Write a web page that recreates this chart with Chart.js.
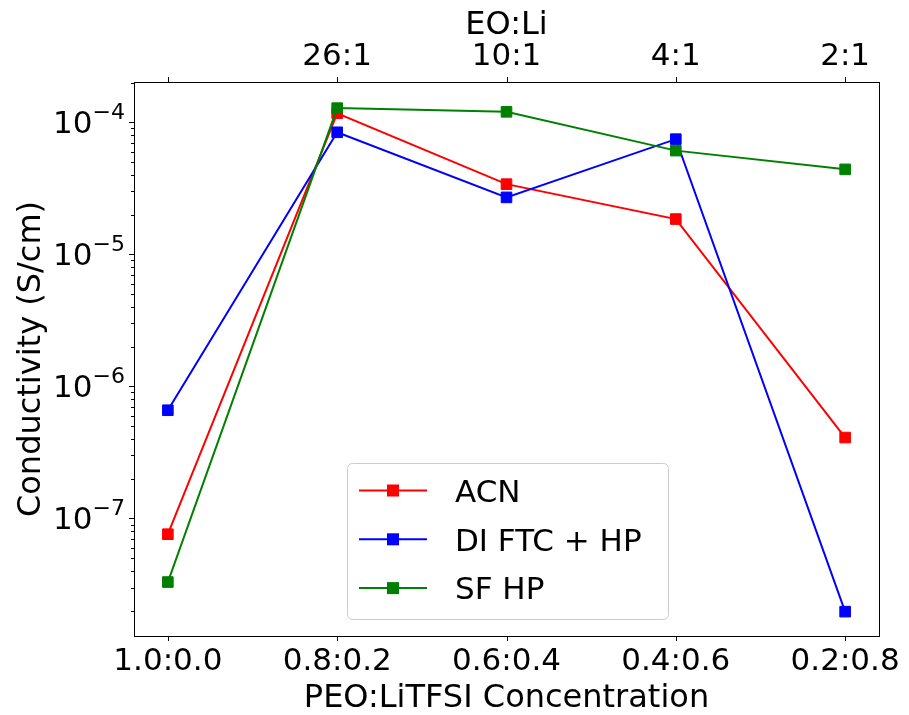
<!DOCTYPE html>
<html>
<head>
<meta charset="utf-8">
<script src="https://cdn.jsdelivr.net/npm/chart.js@4"></script>
<style>
  body { margin: 0; background: #fff; }
</style>
</head>
<body>
<canvas id="chart" width="909" height="715"></canvas>
<script>
// categories on the bottom axis and the matching EO:Li ratios on top
const categories = ["1.0:0.0", "0.8:0.2", "0.6:0.4", "0.4:0.6", "0.2:0.8"];
const eoLiLabels = ["", "26:1", "10:1", "4:1", "2:1"];
// conductivity values (S/cm)
const acn = [7.6e-8, 1.17e-4, 3.4e-5, 1.85e-5, 4.1e-7];
const diFtcHp = [6.6e-7, 8.4e-5, 2.7e-5, 7.45e-5, 1.97e-8];
const sfHp = [3.3e-8, 1.28e-4, 1.2e-4, 6.1e-5, 4.4e-5];
// powers of ten labelled on the y axis
const yTickExponents = [-7, -6, -5, -4];

const seriesNames = ["ACN", "DI FTC + HP", "SF HP"];
const seriesColors = ["#ff0000", "#0000ff", "#008000"];
const FONT = "DejaVu Sans";

const toPoints = (vals) => vals.map((v, i) => ({ x: i, y: v }));

//Draws frame, tick marks, y labels with superscripts and the legend
const axesPlugin = {
  id: "axesPlugin",
  afterDatasetsDraw(chart) {
    const ctx = chart.ctx;
    const area = chart.chartArea;
    const x = chart.scales.x;
    const y = chart.scales.y;
    ctx.save();
    ctx.strokeStyle = "#000";
    ctx.lineWidth = 1;
    ctx.strokeRect(Math.round(area.left) + 0.5, Math.round(area.top) + 0.5,
      Math.round(area.right - area.left), Math.round(area.bottom - area.top));

    // x tick marks, bottom and top
    ctx.beginPath();
    categories.forEach((c, i) => {
      const px = Math.round(x.getPixelForValue(i)) + 0.5;
      ctx.moveTo(px, area.bottom); ctx.lineTo(px, area.bottom + 5);
      ctx.moveTo(px, area.top); ctx.lineTo(px, area.top - 5);
    });
    // y major and minor tick marks
    for (let e = -9; e <= -3; e++) {
      for (let m = 1; m <= 9; m++) {
        const v = m * Math.pow(10, e);
        if (v < y.min || v > y.max) continue;
        const py = Math.round(y.getPixelForValue(v)) + 0.5;
        ctx.moveTo(area.left - (m === 1 ? 5 : 3), py);
        ctx.lineTo(area.left, py);
      }
    }
    ctx.stroke();

    // y tick labels 10^n
    ctx.fillStyle = "#000";
    ctx.textBaseline = "alphabetic";
    ctx.textAlign = "left";
    yTickExponents.forEach((e) => {
      const py = y.getPixelForValue(Math.pow(10, e));
      const expText = "\u2212" + Math.abs(e);
      ctx.font = "22px '" + FONT + "'";
      const expW = ctx.measureText(expText).width;
      ctx.font = "31px '" + FONT + "'";
      const baseW = ctx.measureText("10").width;
      const right = area.left - 9;
      ctx.fillText("10", right - expW - baseW, py + 11);
      ctx.font = "22px '" + FONT + "'";
      ctx.fillText(expText, right - expW, py - 3);
    });

    // legend
    const bw = 321, bh = 156;
    const bx = (area.left + area.right) / 2 - bw / 2 + 1;
    const by = area.bottom - 17 - bh;
    ctx.beginPath();
    ctx.roundRect(bx + 0.5, by + 0.5, bw, bh, 5);
    ctx.fillStyle = "rgba(255,255,255,0.8)";
    ctx.fill();
    ctx.strokeStyle = "#cccccc";
    ctx.stroke();
    seriesNames.forEach((name, i) => {
      const cy = by + 27.5 + i * 48.8;
      ctx.strokeStyle = seriesColors[i];
      ctx.lineWidth = 2;
      ctx.beginPath();
      ctx.moveTo(bx + 12, cy); ctx.lineTo(bx + 80, cy);
      ctx.stroke();
      ctx.fillStyle = seriesColors[i];
      ctx.fillRect(bx + 46 - 6, cy - 6, 12, 12);
      ctx.fillStyle = "#000";
      ctx.font = "31px '" + FONT + "'";
      ctx.fillText(name, bx + 108, cy + 11.3);
    });
    ctx.restore();
  },
};

const datasetFor = (vals, i) => ({
  label: seriesNames[i],
  data: toPoints(vals),
  borderColor: seriesColors[i],
  backgroundColor: seriesColors[i],
  borderWidth: 2,
  pointStyle: "rect",
  pointRadius: 7.5,
  pointBorderWidth: 1,
  order: 3 - i,
  clip: false,
});

const tickFont = { family: FONT, size: 31 };
const titleFont = { family: FONT, size: 32, lineHeight: 1 };

new Chart(document.getElementById("chart"), {
  type: "line",
  data: {
    datasets: [datasetFor(acn, 0), datasetFor(diFtcHp, 1), datasetFor(sfHp, 2)],
  },
  plugins: [axesPlugin],
  options: {
    responsive: false,
    animation: false,
    layout: { padding: { left: 0, right: 30, top: 0, bottom: 0 } },
    plugins: { legend: { display: false }, tooltip: { enabled: false } },
    scales: {
      x: {
        type: "linear",
        position: "bottom",
        min: -0.2,
        max: 4.2,
        afterBuildTicks: (s) => { s.ticks = categories.map((c, i) => ({ value: i })); },
        afterFit: (s) => { s.height = 79; },
        grid: { display: false, drawTicks: false },
        border: { display: false },
        ticks: {
          padding: 7.5, color: "#000", font: tickFont, maxRotation: 0, autoSkip: false,
          callback: (v) => categories[v],
        },
        title: { display: true, text: "PEO:LiTFSI Concentration", color: "#000", font: titleFont, padding: 0.5 },
      },
      x2: {
        type: "linear",
        position: "top",
        min: -0.2,
        max: 4.2,
        afterBuildTicks: (s) => { s.ticks = eoLiLabels.map((c, i) => ({ value: i })); },
        afterFit: (s) => { s.height = 82; },
        grid: { display: false, drawTicks: false },
        border: { display: false },
        ticks: {
          padding: 6, color: "#000", font: tickFont, maxRotation: 0, autoSkip: false,
          callback: (v) => eoLiLabels[v],
        },
        title: { display: true, text: "EO:Li", color: "#000", font: titleFont, padding: 9.5 },
      },
      y: {
        type: "logarithmic",
        position: "left",
        min: Math.pow(10, -7.89),
        max: Math.pow(10, -3.695),
        afterFit: (s) => { s.width = 134; },
        grid: { display: false, drawTicks: false },
        border: { display: false },
        ticks: { display: false },
        title: { display: true, text: "Conductivity (S/cm)", color: "#000", font: titleFont, padding: 16 },
      },
    },
  },
});
</script>
</body>
</html>
